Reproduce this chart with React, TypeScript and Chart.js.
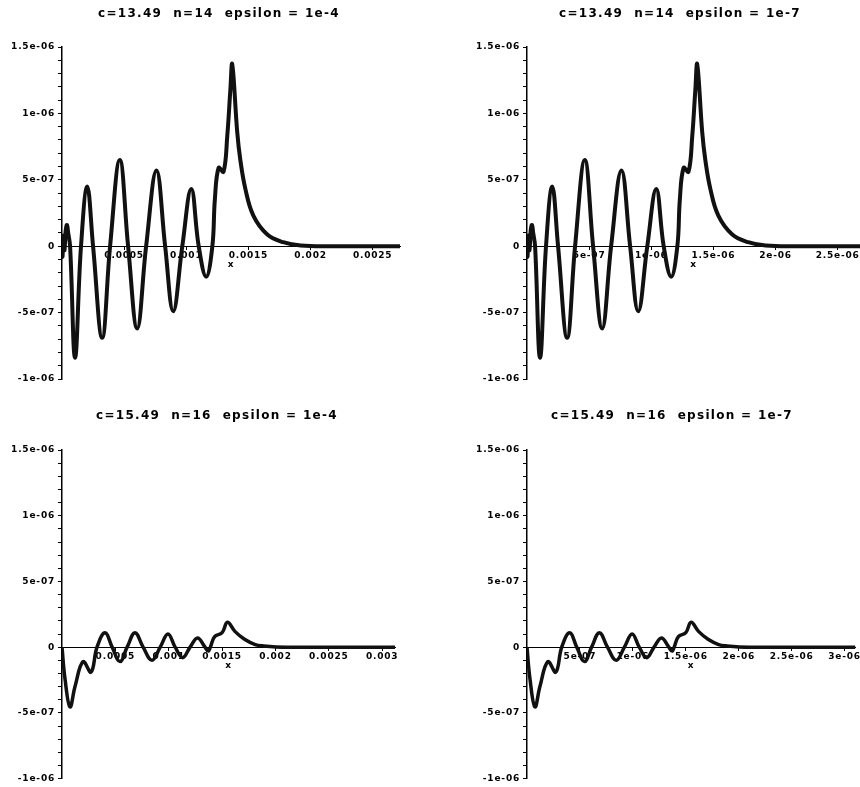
import React, { useEffect, useRef } from 'react';
import { Chart, registerables } from 'chart.js';

Chart.register(...registerables);

// ---- Data ----
const titles = [
  'c=13.49  n=14  epsilon = 1e-4',
  'c=13.49  n=14  epsilon = 1e-7',
  'c=15.49  n=16  epsilon = 1e-4',
  'c=15.49  n=16  epsilon = 1e-7',
];

// top row (c=13.49, n=14): x for epsilon=1e-4
const topXEps4 = [
  0, 4e-6, 1.2e-5, 2e-5, 3e-5, 4e-5, 5e-5, 6.5e-5, 1.05e-4, 1.53e-4,
  2.03e-4, 2.5e-4, 3.23e-4, 3.87e-4, 4.65e-4, 5.32e-4, 6.05e-4, 6.77e-4, 7.6e-4, 8.3e-4,
  8.95e-4, 9.68e-4, 1.04e-3, 1.1e-3, 1.16e-3, 1.21e-3, 1.23e-3, 1.26e-3, 1.3e-3, 1.33e-3,
  1.355e-3, 1.37e-3, 1.41e-3, 1.435e-3, 1.476e-3, 1.54e-3, 1.65e-3, 1.78e-3, 1.92e-3, 2.2e-3,
  2.72e-3,
];
// top row: x for epsilon=1e-7
const topXEps7 = [
  0, 4e-9, 1.2e-8, 2e-8, 3e-8, 4e-8, 5e-8, 6.5e-8, 1.05e-7, 1.53e-7,
  2.03e-7, 2.5e-7, 3.23e-7, 3.87e-7, 4.65e-7, 5.32e-7, 6.05e-7, 6.77e-7, 7.6e-7, 8.3e-7,
  8.95e-7, 9.68e-7, 1.04e-6, 1.1e-6, 1.16e-6, 1.21e-6, 1.23e-6, 1.26e-6, 1.3e-6, 1.33e-6,
  1.355e-6, 1.37e-6, 1.41e-6, 1.435e-6, 1.476e-6, 1.54e-6, 1.65e-6, 1.78e-6, 1.92e-6, 2.2e-6,
  2.72e-6,
];
const topY = [
  0, -0.08e-6, 0.08e-6, -0.03e-6, 0.12e-6, 0.16e-6, 0.1e-6, 0, -0.84e-6, 0,
  0.45e-6, 0, -0.69e-6, 0, 0.65e-6, 0, -0.62e-6, 0, 0.57e-6, 0,
  -0.49e-6, 0, 0.43e-6, 0, -0.23e-6, 0, 0.35e-6, 0.59e-6, 0.56e-6, 0.83e-6,
  1.18e-6, 1.37e-6, 0.86e-6, 0.65e-6, 0.43e-6, 0.23e-6, 0.09e-6, 0.03e-6, 0.005e-6, 0,
  0,
];

// bottom row (c=15.49, n=16): x for epsilon=1e-4
const botXEps4 = [
  0, 2.8e-5, 7.5e-5, 1.22e-4, 1.97e-4, 2.72e-4, 3.28e-4, 4.03e-4, 4.7e-4, 5.43e-4,
  6.1e-4, 6.84e-4, 7.6e-4, 8.43e-4, 9.2e-4, 9.93e-4, 1.06e-3, 1.13e-3, 1.2e-3, 1.27e-3,
  1.34e-3, 1.37e-3, 1.39e-3, 1.43e-3, 1.5e-3, 1.55e-3, 1.62e-3, 1.71e-3, 1.81e-3, 1.88e-3,
  2.1e-3, 3.12e-3,
];
// bottom row: x for epsilon=1e-7
const botXEps7 = [
  0, 2.8e-8, 7.5e-8, 1.22e-7, 1.97e-7, 2.72e-7, 3.28e-7, 4.03e-7, 4.7e-7, 5.43e-7,
  6.1e-7, 6.84e-7, 7.6e-7, 8.43e-7, 9.2e-7, 9.93e-7, 1.06e-6, 1.13e-6, 1.2e-6, 1.27e-6,
  1.34e-6, 1.37e-6, 1.39e-6, 1.43e-6, 1.5e-6, 1.55e-6, 1.62e-6, 1.71e-6, 1.81e-6, 1.88e-6,
  2.1e-6, 3.12e-6,
];
const botY = [
  0, -0.24e-6, -0.455e-6, -0.3e-6, -0.11e-6, -0.19e-6, 0, 0.11e-6, 0, -0.11e-6,
  0, 0.11e-6, 0, -0.1e-6, 0, 0.1e-6, 0, -0.08e-6, 0, 0.07e-6,
  0, -0.03e-6, 0, 0.08e-6, 0.11e-6, 0.19e-6, 0.12e-6, 0.06e-6, 0.02e-6, 0.01e-6,
  0, 0,
];

const yTickValues = [-1e-6, -5e-7, 0, 5e-7, 1e-6, 1.5e-6];
const yTickLabels = ['-1e-06', '-5e-07', '0', '5e-07', '1e-06', '1.5e-06'];

const xTicksTL = [0.0005, 0.001, 0.0015, 0.002, 0.0025];
const xLabelsTL = ['0.0005', '0.001', '0.0015', '0.002', '0.0025'];
const xTicksTR = [5e-7, 1e-6, 1.5e-6, 2e-6, 2.5e-6];
const xLabelsTR = ['5e-07', '1e-06', '1.5e-06', '2e-06', '2.5e-06'];
const xTicksBL = [0.0005, 0.001, 0.0015, 0.002, 0.0025, 0.003];
const xLabelsBL = ['0.0005', '0.001', '0.0015', '0.002', '0.0025', '0.003'];
const xTicksBR = [5e-7, 1e-6, 1.5e-6, 2e-6, 2.5e-6, 3e-6];
const xLabelsBR = ['5e-07', '1e-06', '1.5e-06', '2e-06', '2.5e-06', '3e-06'];

// ---- Layout (positions and styles) ----
type Panel = {
  left: number; top: number; width: number; height: number;
  area: { l: number; t: number; r: number; b: number };
  xMax: number; xs: number[]; ys: number[];
  xTicks: number[]; xLabels: string[];
  title: string; titleX: number; titleY: number; lineWidth: number;
};

const panels: Panel[] = [
  { left: 0, top: 0, width: 430, height: 400, area: { l: 62, t: 47, r: 400, b: 379 },
    xMax: 0.00272, xs: topXEps4, ys: topY, xTicks: xTicksTL, xLabels: xLabelsTL,
    title: titles[0], titleX: 219, titleY: 14, lineWidth: 4 },
  { left: 430, top: 0, width: 430, height: 400, area: { l: 97, t: 47, r: 430, b: 379 },
    xMax: 2.68e-6, xs: topXEps7, ys: topY, xTicks: xTicksTR, xLabels: xLabelsTR,
    title: titles[1], titleX: 250, titleY: 14, lineWidth: 4 },
  { left: 0, top: 400, width: 430, height: 387, area: { l: 62, t: 50, r: 395, b: 380 },
    xMax: 0.00312, xs: botXEps4, ys: botY, xTicks: xTicksBL, xLabels: xLabelsBL,
    title: titles[2], titleX: 217, titleY: 16, lineWidth: 3.5 },
  { left: 430, top: 400, width: 430, height: 387, area: { l: 97, t: 50, r: 427, b: 380 },
    xMax: 3.1e-6, xs: botXEps7, ys: botY, xTicks: xTicksBR, xLabels: xLabelsBR,
    title: titles[3], titleX: 242, titleY: 16, lineWidth: 3.5 },
];

const FONT_FAMILY = '"DejaVu Sans", "Liberation Sans", sans-serif';

function lookup(vals: number[], labels: string[], v: number): string {
  const i = vals.findIndex((t) => Math.abs(t - v) < 1e-11);
  return i >= 0 ? labels[i] : '';
}

function PanelChart({ p }: { p: Panel }) {
  const ref = useRef<HTMLCanvasElement | null>(null);
  useEffect(() => {
    if (!ref.current) return;
    const titlePlugin = {
      id: 'panelTitle',
      beforeDraw(chart: any) {
        chart.ctx.letterSpacing = '0.8px';
      },
      afterDraw(chart: any) {
        const ctx = chart.ctx;
        ctx.save();
        ctx.font = `bold 12px ${FONT_FAMILY}`;
        ctx.letterSpacing = '1.3px';
        ctx.fillStyle = '#000';
        ctx.textAlign = 'center';
        ctx.textBaseline = 'middle';
        ctx.fillText(p.title, p.titleX, p.titleY);
        ctx.restore();
      },
    };
    const chart = new Chart(ref.current, {
      type: 'line',
      data: {
        datasets: [
          {
            data: p.xs.map((x, i) => ({ x, y: p.ys[i] })),
            borderColor: '#111',
            borderWidth: p.lineWidth,
            pointRadius: 0,
            tension: 0.4,
            fill: false,
          },
        ],
      },
      options: {
        animation: false,
        responsive: false,
        maintainAspectRatio: false,
        devicePixelRatio: 1,
        layout: {
          padding: { left: 0, top: p.area.t, right: p.width - p.area.r, bottom: p.height - p.area.b },
        },
        plugins: {
          legend: { display: false },
          tooltip: { enabled: false },
          title: { display: false },
        },
        scales: {
          x: {
            type: 'linear',
            min: 0,
            max: p.xMax,
            position: { y: 0 } as any,
            afterBuildTicks: (s: any) => {
              s.ticks = p.xTicks.map((v) => ({ value: v }));
            },
            ticks: {
              autoSkip: false,
              maxRotation: 0,
              padding: 1,
              color: '#000',
              font: { family: FONT_FAMILY, size: 9, weight: 'bold' },
              callback: (v: any) => lookup(p.xTicks, p.xLabels, Number(v)),
            },
            grid: { drawOnChartArea: false, drawTicks: true, tickLength: 3, color: '#000' },
            border: { display: true, color: '#000', width: 1 },
            title: {
              display: true,
              text: 'x',
              padding: { top: -3, bottom: 0 },
              color: '#000',
              font: { family: FONT_FAMILY, size: 9, weight: 'bold' },
            },
          },
          y: {
            type: 'linear',
            min: -1e-6,
            max: 1.5e-6,
            position: 'left',
            afterFit: (s: any) => {
              s.width = p.area.l;
            },
            ticks: {
              stepSize: 1e-7,
              autoSkip: false,
              padding: 3,
              color: '#000',
              font: { family: FONT_FAMILY, size: 9, weight: 'bold' },
              callback: (v: any) => lookup(yTickValues, yTickLabels, Number(v)),
            },
            grid: { drawOnChartArea: false, drawTicks: true, tickLength: 4, color: '#000' },
            border: { display: true, color: '#000', width: 1.5 },
          },
        },
      } as any,
      plugins: [titlePlugin],
    });
    return () => chart.destroy();
  }, [p]);
  return (
    <canvas
      ref={ref}
      width={p.width}
      height={p.height}
      style={{ position: 'absolute', left: p.left, top: p.top, width: p.width, height: p.height }}
    />
  );
}

export default function App() {
  useEffect(() => {
    document.body.style.margin = '0';
    document.body.style.background = '#fff';
  }, []);
  return (
    <div style={{ position: 'relative', width: 860, height: 787, background: '#fff', overflow: 'hidden' }}>
      {panels.map((p, i) => (
        <PanelChart key={i} p={p} />
      ))}
    </div>
  );
}
